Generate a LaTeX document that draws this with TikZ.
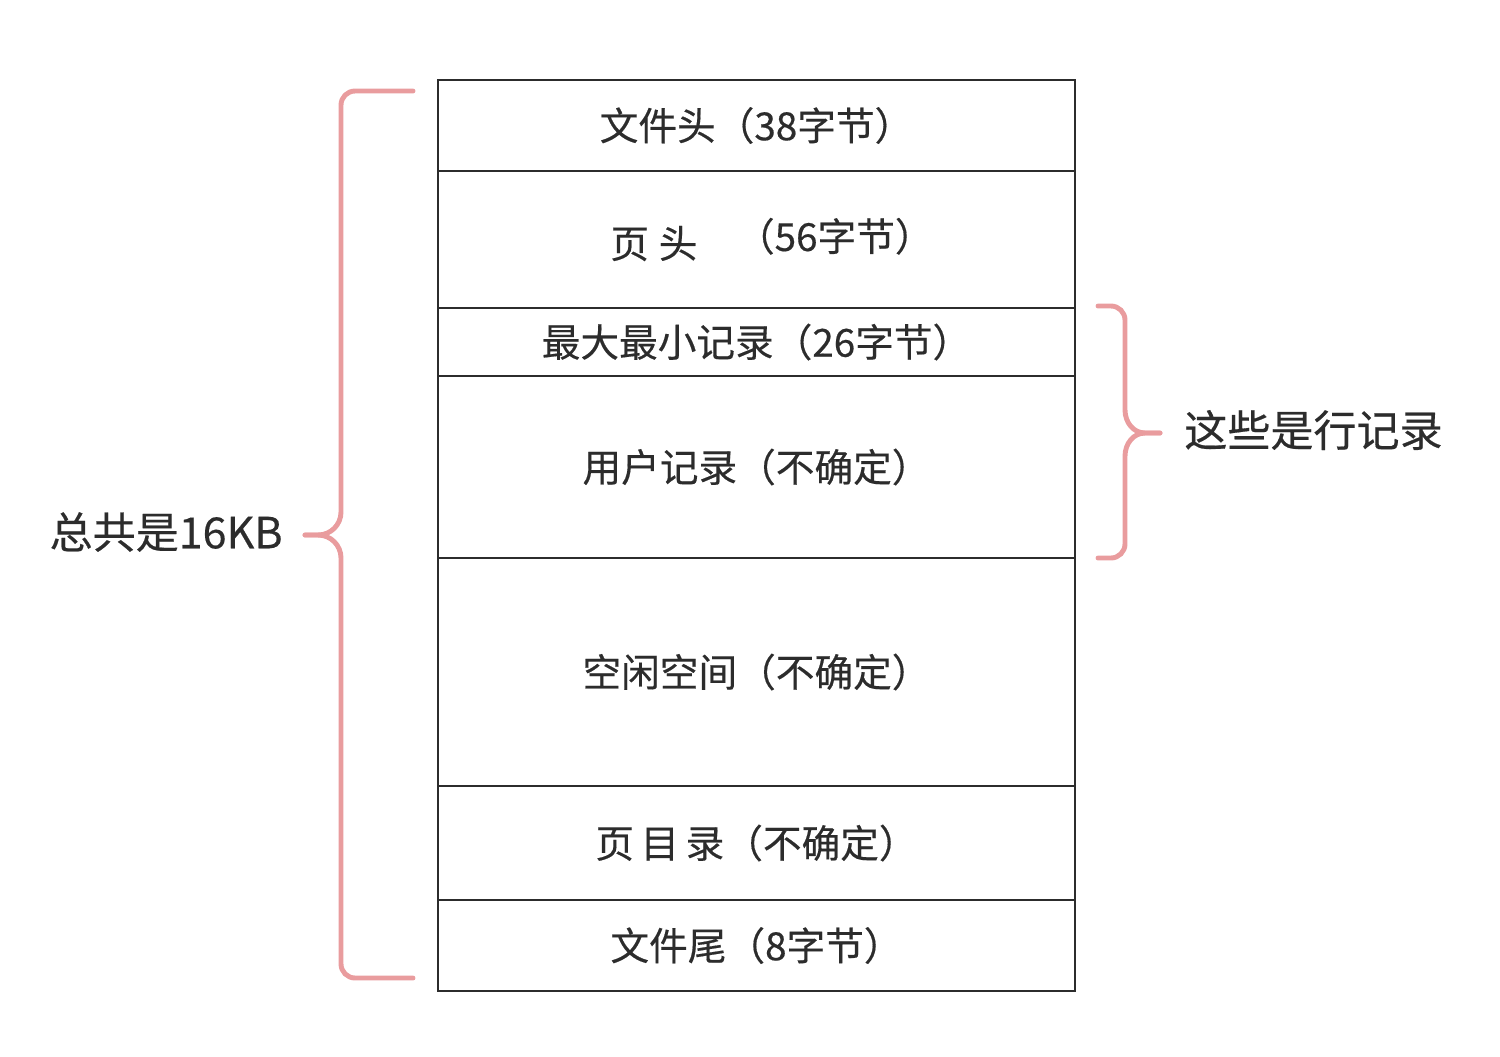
\documentclass[tikz,border=0pt]{standalone}
\usepackage{fontspec}
\usepackage{xcolor}
\usepackage{tikz}
\setmainfont{Noto Sans CJK SC}[FakeBold=0.4]
\definecolor{bracepink}{HTML}{E99C9E}
\definecolor{inkgray}{HTML}{2C2C2C}
\newcommand\rowfont{\fontsize{22}{26.5}\selectfont}
\newcommand\sidefont{\fontsize{24.5}{29}\selectfont}
\tikzset{
  row/.style={draw=inkgray, line width=1pt, minimum width=12.74cm, minimum height=#1,
    inner sep=0pt, outer sep=0pt, text=inkgray, font=\rowfont},
  bracepen/.style={draw=bracepink, line width=2.8pt, line cap=round},
  sidelabel/.style={text=inkgray, font=\sidefont, inner sep=0pt}
}

\begin{document}
\begin{tikzpicture}[x=0.02cm, y=-0.02cm]
  \useasboundingbox (0,0) rectangle (1500,1056);
  \node[row=1.82cm] (filehdr) at (756.5,125.5) {文件头（38字节）};
  \node[row=2.74cm] (pagehdr) at (756.5,239.5) {\hspace{0.8em}\raisebox{-0.14cm}{页\hspace{0.25em}头}\hspace{1em}（56字节）};
  \node[row=1.36cm] (infsup)  at (756.5,342)   {最大最小记录（26字节）};
  \node[row=3.64cm] (userrec) at (756.5,467)   {用户记录（不确定）};
  \node[row=4.56cm] (freesp)  at (756.5,672)   {空闲空间（不确定）};
  \node[row=2.28cm] (pagedir) at (756.5,843)   {页\,目\,录（不确定）};
  \node[row=1.82cm] (filetrl) at (756.5,945.5) {文件尾（8字节）};

  \draw[bracepen] (413,91) [rounded corners=8pt] -- (341,91) [sharp corners] -- (341,512)
    to[out=-90,in=0] (318,535) -- (305,535);
  \draw[bracepen] (305,535) -- (318,535) to[out=0,in=90] (341,558)
    [rounded corners=8pt] -- (341,978) -- (413,978);
  \node[sidelabel, anchor=east] (total) at (283,532) {总共是16KB};

  \draw[bracepen] (1098,306) [rounded corners=8pt] -- (1125,306) [sharp corners] -- (1125,410)
    to[out=-90,in=180] (1145,433) -- (1160,433);
  \draw[bracepen] (1160,433) -- (1145,433) to[out=180,in=90] (1125,456)
    [rounded corners=8pt] -- (1125,558) -- (1098,558);
  \node[sidelabel, anchor=west] (rowrec) at (1184,430) {这些是行记录};
\end{tikzpicture}
\end{document}
